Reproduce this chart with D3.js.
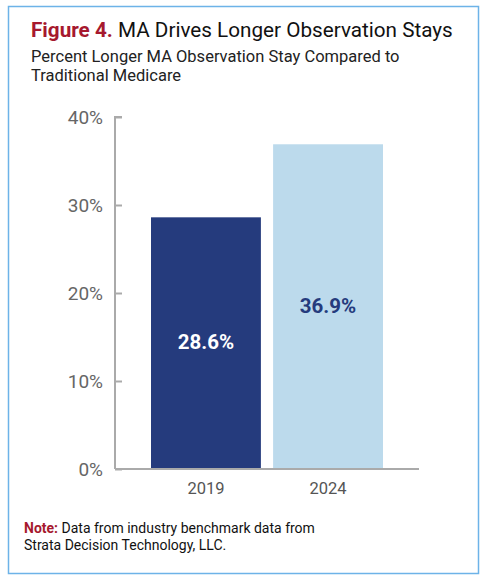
<!DOCTYPE html>
<meta charset="utf-8">
<script src="https://d3js.org/d3.v7.min.js"></script>
<style>
  body { margin: 0; background: #fff; }
  text { font-family: Roboto, "Liberation Sans", sans-serif; }
</style>
<div id="chart"></div>
<script>
  // data
  const years = ["2019", "2024"];
  const values = [28.6, 36.9];
  const yTicks = [0, 10, 20, 30, 40];

  const W = 485, H = 580;
  const margin = { top: 117, right: 66, bottom: 111, left: 115 };
  const width = W - margin.left - margin.right,
    height = H - margin.top - margin.bottom;

  const svg = d3.select("#chart")
    .append("svg")
    .attr("width", W)
    .attr("height", H);

  // frame
  svg.append("rect")
    .attr("x", 8.5).attr("y", 6.5)
    .attr("width", 470).attr("height", 567)
    .attr("fill", "none")
    .attr("stroke", "#6db3e8")
    .attr("stroke-width", 1.5);

  // title
  const title = svg.append("text")
    .attr("x", 31).attr("y", 37)
    .style("font-size", "20.7px");
  title.append("tspan").text("Figure 4.").attr("fill", "#a6192e").attr("font-weight", "bold");
  title.append("tspan").text(" MA Drives Longer Observation Stays").attr("fill", "#111");

  svg.selectAll(".subtitle")
    .data(["Percent Longer MA Observation Stay Compared to", "Traditional Medicare"])
    .join("text")
    .attr("x", 31)
    .attr("y", (d, i) => 62 + i * 19)
    .style("font-size", "16.5px")
    .attr("fill", "#222")
    .text(d => d);

  const g = svg.append("g")
    .attr("transform", `translate(${margin.left},${margin.top})`);

  const x = d3.scaleBand()
    .domain(years)
    .range([36, 268])
    .paddingInner(0.1)
    .paddingOuter(0);

  const y = d3.scaleLinear()
    .domain([0, 40])
    .range([height, 0]);

  // y axis: ticks pointing into the plot
  const yAxis = g.append("g")
    .call(d3.axisRight(y).tickValues(yTicks).tickSize(7).tickFormat(d => d + "%"));
  yAxis.select(".domain").attr("stroke", "#aaa").attr("stroke-width", 2)
    .attr("d", `M7,0H0V${height}`);
  yAxis.selectAll(".tick line").attr("stroke", "#aaa").attr("stroke-width", 2);
  yAxis.selectAll(".tick text")
    .attr("x", -12)
    .attr("text-anchor", "end")
    .attr("fill", "#666")
    .style("font-size", "19px");

  // x axis baseline
  const xAxis = g.append("g")
    .attr("transform", `translate(0,${height})`)
    .call(d3.axisBottom(x).tickSize(0).tickPadding(13));
  xAxis.select(".domain").attr("stroke", "#aaa").attr("stroke-width", 2)
    .attr("d", `M0,0H304`);
  xAxis.selectAll(".tick text")
    .attr("fill", "#555")
    .style("font-size", "16.5px");

  const colors = ["#253b7d", "#bcdaec"];
  const labelColors = ["#fff", "#253b7d"];

  g.selectAll(".bar")
    .data(values)
    .join("rect")
    .attr("class", "bar")
    .attr("x", (d, i) => x(years[i]))
    .attr("width", x.bandwidth())
    .attr("y", d => y(d))
    .attr("height", d => height - y(d) - 1)
    .attr("fill", (d, i) => colors[i]);

  g.selectAll(".label")
    .data(values)
    .join("text")
    .attr("class", "label")
    .attr("x", (d, i) => x(years[i]) + x.bandwidth() / 2)
    .attr("y", d => y(d / 2) + 6)
    .attr("text-anchor", "middle")
    .attr("fill", (d, i) => labelColors[i])
    .attr("font-weight", "bold")
    .style("font-size", "20.5px")
    .text(d => d.toFixed(1) + "%");

  // note
  const noteSize = "14px";
  const note = svg.append("text")
    .attr("x", 24).attr("y", 533)
    .style("font-size", noteSize)
    .attr("fill", "#111");
  note.append("tspan").text("Note:").attr("fill", "#a6192e").attr("font-weight", "bold");
  note.append("tspan").text(" Data from industry benchmark data from");
  svg.append("text")
    .attr("x", 24).attr("y", 550)
    .style("font-size", noteSize)
    .attr("fill", "#111")
    .text("Strata Decision Technology, LLC.");
</script>
